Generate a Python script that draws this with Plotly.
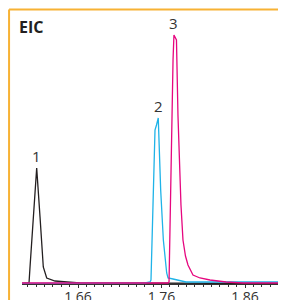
import plotly.graph_objects as go
import numpy as np

# Retention time (min) and intensity for each extracted ion chromatogram
t1 = [1.5929, 1.6013, 1.6025, 1.6065, 1.6105, 1.6145, 1.6184, 1.6225, 1.6325, 1.6468, 1.6624, 1.9091]
i1 = [0.5, 1, 17, 67, 116, 67, 17, 6, 3, 2, 1, 0.5]

t2 = [1.5929, 1.7402, 1.7462, 1.7474, 1.7498, 1.7522, 1.7540, 1.7561, 1.7590, 1.7622,
      1.7662, 1.7678, 1.7738, 1.7822, 1.7893, 1.9091]
i2 = [0.5, 1, 2, 4, 79, 154, 159, 166, 94, 44, 11, 6, 5, 3, 2, 2]

t3 = [1.5929, 1.7678, 1.7690, 1.7714, 1.7738, 1.7749, 1.7779, 1.7797, 1.7809, 1.7833,
      1.7857, 1.7887, 1.7917, 1.7977, 1.8061, 1.8181, 1.8373, 1.8576, 1.9091]
i3 = [1, 1, 2, 134, 224, 249, 244, 169, 134, 79, 44, 28, 19, 9, 6, 4, 2, 1, 1]

peak_labels = ["1", "2", "3"]
tick_vals = [1.66, 1.76, 1.86]
tick_text = ["1.66", "1.76", "1.86"]

colors = ["#231F20", "#1FB3E8", "#E6077F"]

fig = go.Figure()
series = [(t1, i1), (t2, i2), (t3, i3)]
for (t, y), c in zip(series, colors):
    fig.add_trace(go.Scatter(x=t, y=y, mode="lines", line=dict(color=c, width=1.3),
                             showlegend=False, hoverinfo="skip", cliponaxis=False))

for (t, y), lab in zip(series, peak_labels):
    k = int(np.argmax(y))
    fig.add_annotation(x=t[k], y=y[k], text=lab, showarrow=False, yanchor="bottom",
                       yshift=0, font=dict(family="Open Sans", size=15, color="#333333"))

fig.add_annotation(xref="paper", yref="paper", x=-0.018, y=0.933, xanchor="left", yanchor="middle",
                   text="<b>EIC</b>", showarrow=False,
                   font=dict(family="Open Sans", size=16, color="#231F20"))

orange = "#F7B234"
fig.add_shape(type="line", xref="paper", yref="paper", x0=-0.049, x1=-0.049, y0=0.998, y1=-0.07,
              line=dict(color=orange, width=2))
fig.add_shape(type="line", xref="paper", yref="paper", x0=-0.049, x1=1.05, y0=0.998, y1=0.998,
              line=dict(color=orange, width=2))

# page body has an 8px default margin: figure is sized/offset to compensate
fig.update_layout(
    width=278, height=292,
    margin=dict(l=14, r=0, t=1, b=16, autoexpand=False),
    paper_bgcolor="white", plot_bgcolor="white",
    xaxis=dict(range=[1.5929, 1.9091], tickvals=tick_vals, ticktext=tick_text, automargin=False,
               showgrid=False, zeroline=False, showline=True, linecolor="#333333", linewidth=1,
               ticks="outside", ticklen=3, tickcolor="#333333", tickwidth=1,
               minor=dict(dtick=0.01, tick0=1.66, ticks="outside", ticklen=2, tickcolor="#333333", showgrid=False),
               ticklabelstandoff=-3,
               tickfont=dict(family="Open Sans", size=14, color="#333333")),
    yaxis=dict(range=[0, 275], visible=False, showgrid=False, zeroline=False, automargin=False),
)

fig.write_html("out.html")
